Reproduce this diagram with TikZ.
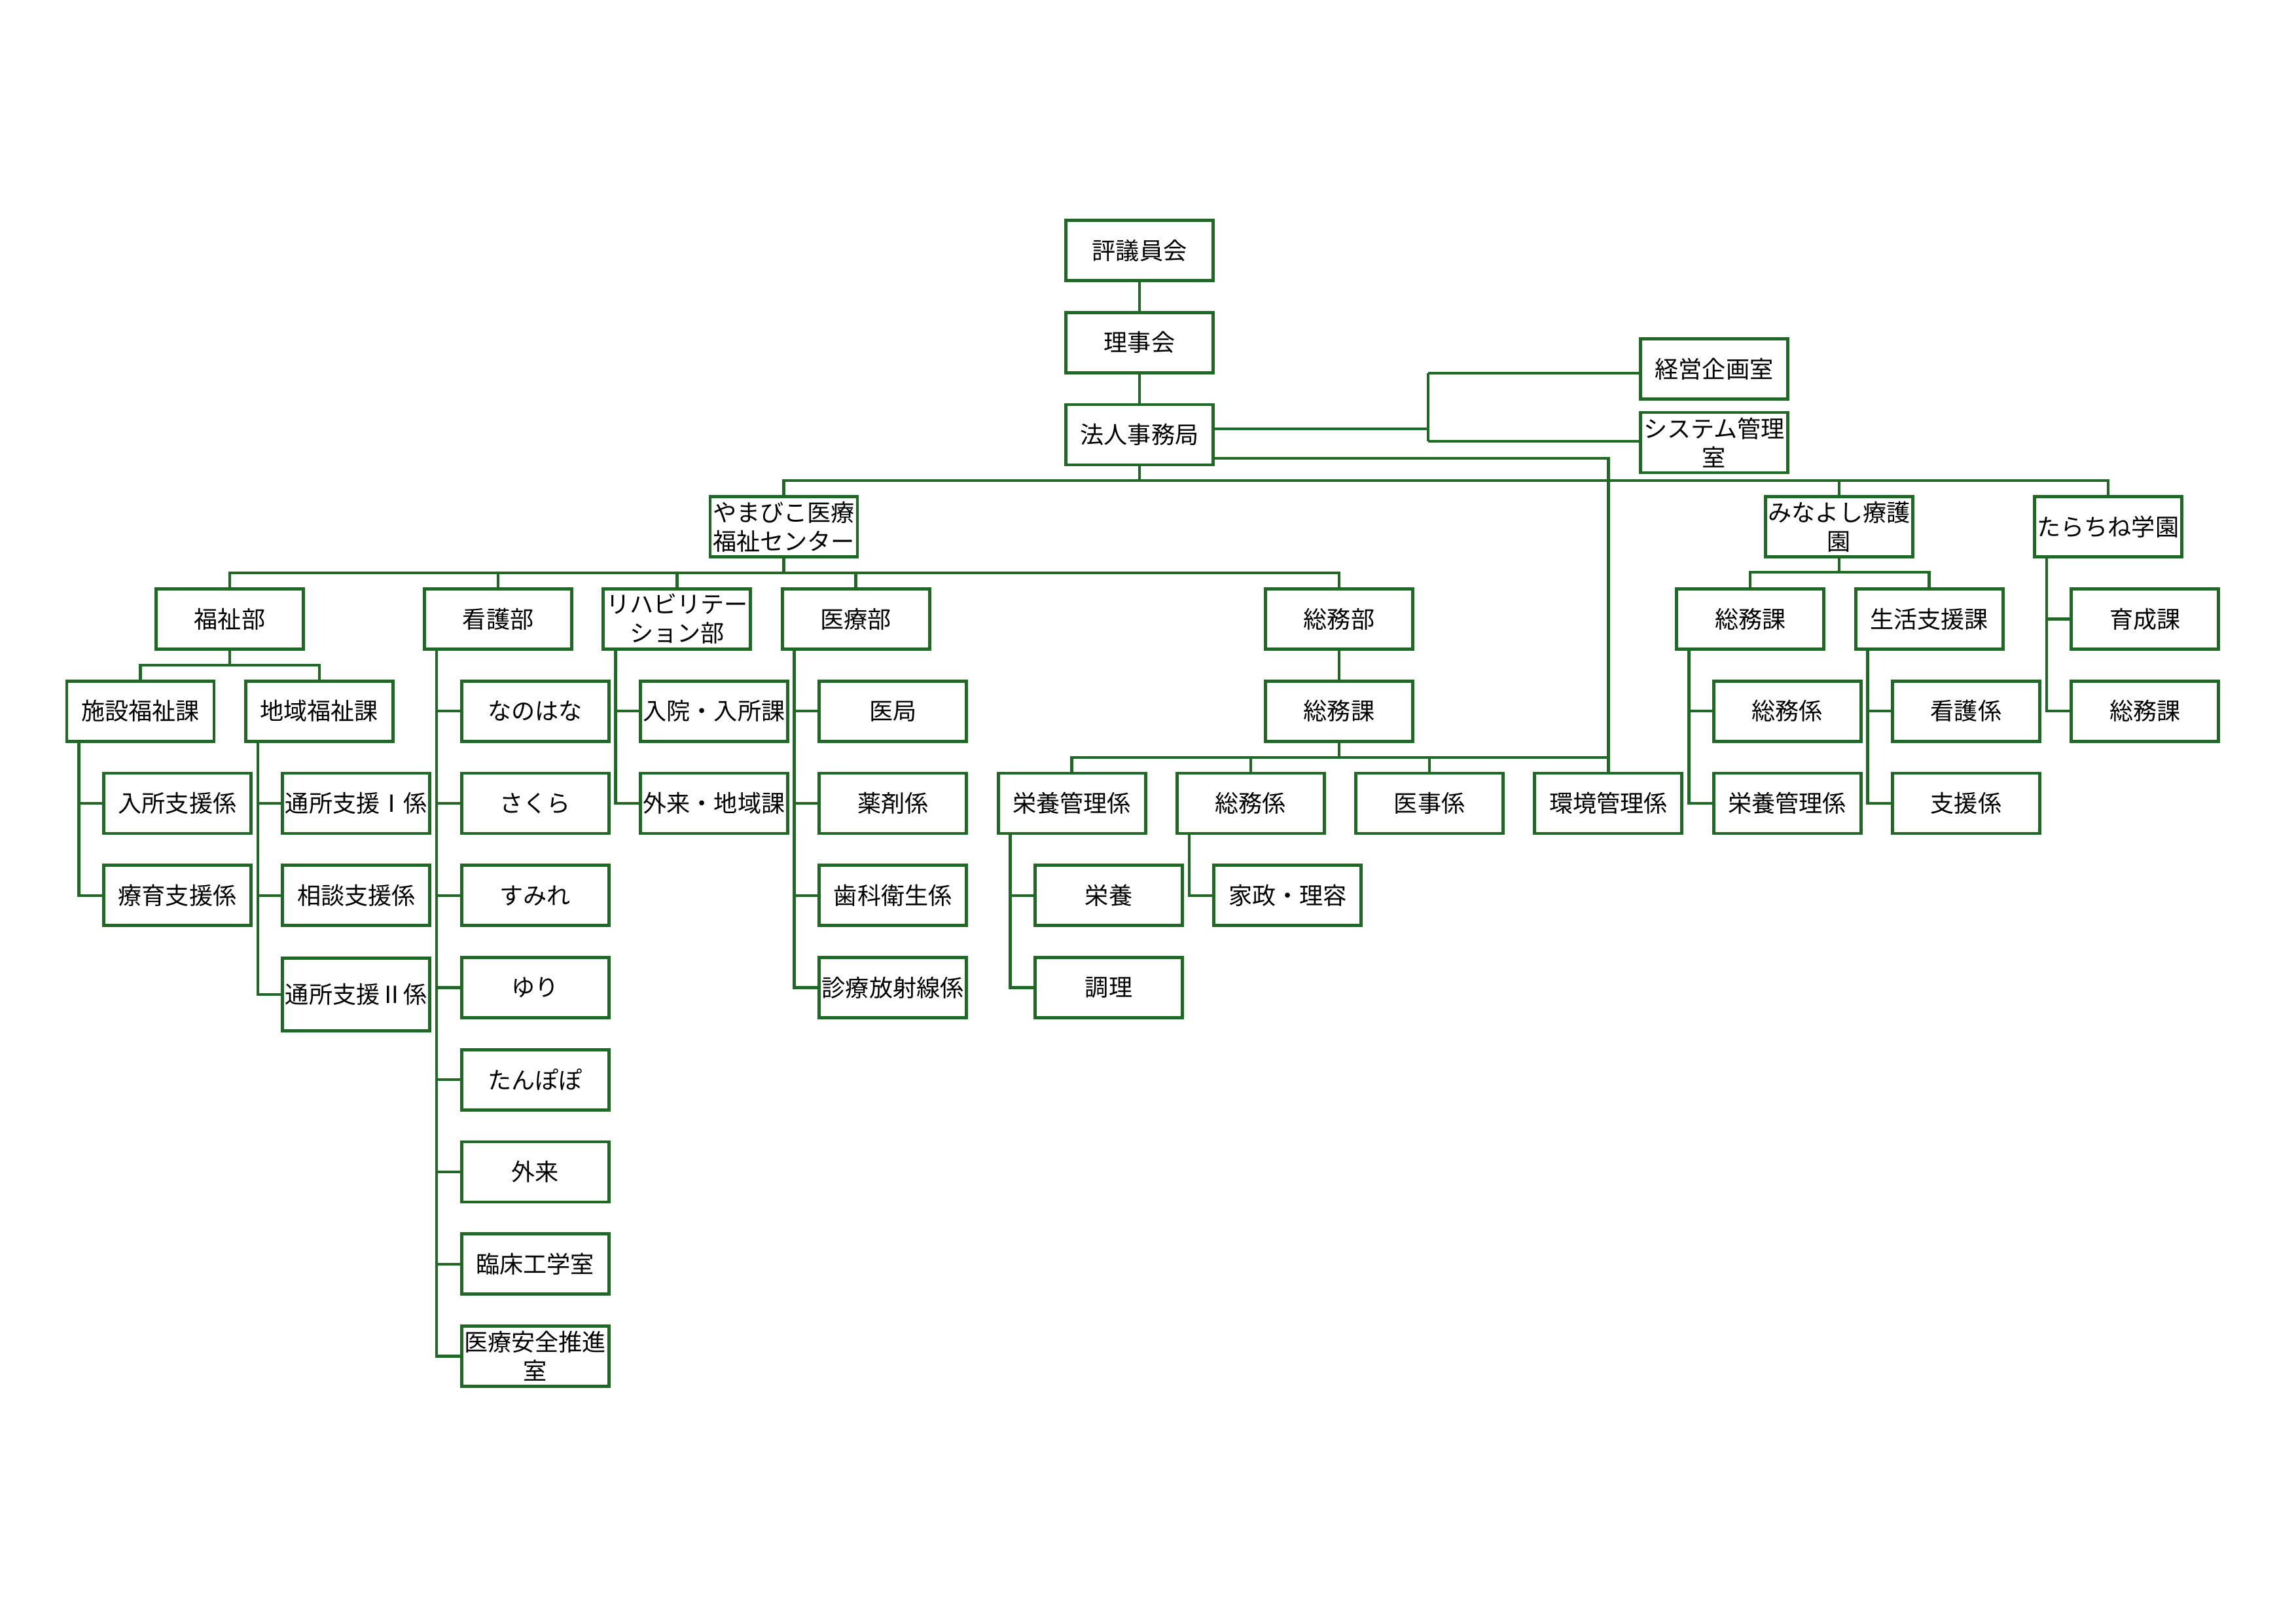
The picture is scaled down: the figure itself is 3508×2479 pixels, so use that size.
\documentclass[tikz,border=0pt]{standalone}
\usepackage{fontspec}
\setmainfont{Noto Sans CJK JP}
\usetikzlibrary{calc}
\definecolor{dg}{RGB}{30,105,36}
\begin{document}
\begin{tikzpicture}[x=0.08467mm,y=-0.08467mm,
 box/.style={draw=dg,line width=0.42mm,fill=white,minimum width=19.05mm,minimum height=7.79mm,inner sep=0pt,align=center,font=\fontsize{8.7}{10.6}\selectfont},
 conn/.style={draw=dg,line width=0.38mm}]
\useasboundingbox (0,0) rectangle (3508,2479);
% top
\node[box] (hyogi) at (1741,382.5) {評議員会};
\node[box] (rijikai) at (1741,523.25) {理事会};
\node[box] (hq) at (1741,664) {法人事務局};
\node[box] (keiei) at (2619,563.5) {経営企画室};
\node[box] (sys) at (2619,676) {システム管理\\室};
\node[box] (yama) at (1197.5,804.75) {やまびこ医療\\福祉センター};
\node[box] (mina) at (2810,804.75) {みなよし療護\\園};
\node[box] (tara) at (3220.8,804.75) {たらちね学園};
% row 4
\node[box] (fukushibu) at (351,945.5) {福祉部};
\node[box] (kango) at (761.1,945.5) {看護部};
\node[box] (riha) at (1034.4,945.5) {リハビリテー\\ション部};
\node[box] (iryo) at (1307.7,945.5) {医療部};
\node[box] (somubu) at (2046,945.5) {総務部};
\node[box] (msomuka) at (2674.2,945.5) {総務課};
\node[box] (seikatsu) at (2947.5,945.5) {生活支援課};
\node[box] (ikusei) at (3277.3,945.5) {育成課};
% row 5
\node[box] (shisetsu) at (214.5,1086.25) {施設福祉課};
\node[box] (chiiki) at (487.8,1086.25) {地域福祉課};
\node[box] (nanohana) at (817.6,1086.25) {なのはな};
\node[box] (nyuin) at (1090.9,1086.25) {入院・入所課};
\node[box] (ikyoku) at (1364.2,1086.25) {医局};
\node[box] (somuka) at (2046,1086.25) {総務課};
\node[box] (msomugakari) at (2730.7,1086.25) {総務係};
\node[box] (kangogakari) at (3004,1086.25) {看護係};
\node[box] (tsomuka) at (3277.3,1086.25) {総務課};
% row 6
\node[box] (nyusho) at (271,1227) {入所支援係};
\node[box] (tsushoA) at (544.3,1227) {通所支援Ⅰ係};
\node[box] (sakura) at (817.6,1227) {さくら};
\node[box] (gairaichiiki) at (1090.9,1227) {外来・地域課};
\node[box] (yakuzai) at (1364.2,1227) {薬剤係};
\node[box] (eiyokanri) at (1637.5,1227) {栄養管理係};
\node[box] (somugakari) at (1910.8,1227) {総務係};
\node[box] (iji) at (2184.1,1227) {医事係};
\node[box] (kankyo) at (2457.4,1227) {環境管理係};
\node[box] (meiyokanri) at (2730.7,1227) {栄養管理係};
\node[box] (shien) at (3004,1227) {支援係};
% row 7
\node[box] (ryoiku) at (271,1367.75) {療育支援係};
\node[box] (sodan) at (544.3,1367.75) {相談支援係};
\node[box] (sumire) at (817.6,1367.75) {すみれ};
\node[box] (shika) at (1364.2,1367.75) {歯科衛生係};
\node[box] (eiyo) at (1694,1367.75) {栄養};
\node[box] (kasei) at (1967.3,1367.75) {家政・理容};
% row 8
\node[box,minimum height=9.4mm] (tsushoB) at (544.3,1519) {通所支援Ⅱ係};
\node[box] (yuri) at (817.6,1508.5) {ゆり};
\node[box] (shinryo) at (1364.2,1508.5) {診療放射線係};
\node[box] (chori) at (1694,1508.5) {調理};
% rows 9-12
\node[box] (tanpopo) at (817.6,1649.25) {たんぽぽ};
\node[box] (gairai) at (817.6,1790) {外来};
\node[box] (rinsho) at (817.6,1930.75) {臨床工学室};
\node[box] (anzen) at (817.6,2071.5) {医療安全推進\\室};
% bus levels
\coordinate (b0) at (0,734);
\coordinate (b1) at (0,875);
\coordinate (bF) at (0,1016);
\coordinate (bM) at (0,874);
\coordinate (bS) at (0,1157);
% vertical chain
\draw[conn] (hyogi.south) -- (rijikai.north);
\draw[conn] (rijikai.south) -- (hq.north);
\draw[conn] (somubu.south) -- (somuka.north);
% buses
\foreach \c in {yama,mina,tara} \draw[conn] (hq.south) -- (hq.south |- b0) -| (\c.north);
\foreach \c in {fukushibu,kango,riha,iryo,somubu} \draw[conn] (yama.south) -- (yama.south |- b1) -| (\c.north);
\foreach \c in {shisetsu,chiiki} \draw[conn] (fukushibu.south) -- (fukushibu.south |- bF) -| (\c.north);
\foreach \c in {msomuka,seikatsu} \draw[conn] (mina.south) -- (mina.south |- bM) -| (\c.north);
\foreach \c in {eiyokanri,somugakari,iji,kankyo} \draw[conn] (somuka.south) -- (somuka.south |- bS) -| (\c.north);
% side children
\foreach \p/\c in {shisetsu/nyusho,shisetsu/ryoiku,chiiki/tsushoA,chiiki/sodan,chiiki/tsushoB,
  kango/nanohana,kango/sakura,kango/sumire,kango/yuri,kango/tanpopo,kango/gairai,kango/rinsho,kango/anzen,
  riha/nyuin,riha/gairaichiiki,iryo/ikyoku,iryo/yakuzai,iryo/shika,iryo/shinryo,
  eiyokanri/eiyo,eiyokanri/chori,somugakari/kasei,
  msomuka/msomugakari,msomuka/meiyokanri,seikatsu/kangogakari,seikatsu/shien,
  tara/ikusei,tara/tsomuka}
  \draw[conn] ($(\p.south west)+(21,0)$) |- (\c.west);
% HQ side connections
\coordinate (brT) at (2182,570);
\coordinate (brB) at (2182,674);
\coordinate (hqA) at ($(hq.east)+(0,-9)$);
\coordinate (hqB) at ($(hq.east)+(0,36)$);
\draw[conn] (hqA) -- (hqA -| brT);
\draw[conn] (brT) -- (brB);
\draw[conn] (brT) -- (brT -| keiei.west);
\draw[conn] (brB) -- (brB -| sys.west);
\draw[conn] (hqB) -| (kankyo.north);
\end{tikzpicture}
\end{document}
